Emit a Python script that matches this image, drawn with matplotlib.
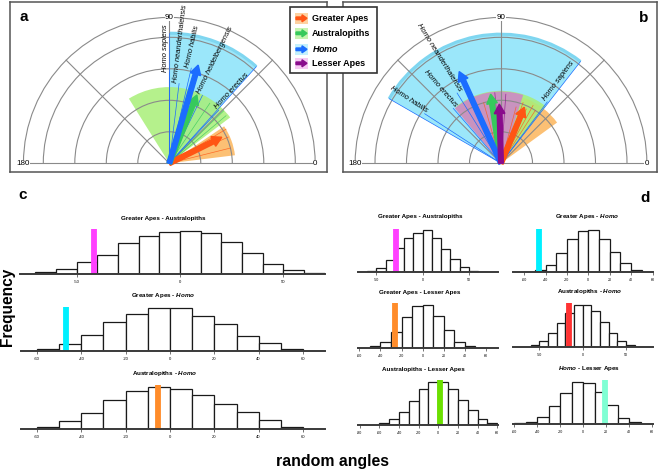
import matplotlib
matplotlib.use("Agg")
import numpy as np
import matplotlib.pyplot as plt
from matplotlib.patches import Wedge, FancyArrow, Rectangle, Arc

plt.rcParams['font.family'] = ['Liberation Sans', 'DejaVu Sans']
plt.rcParams['mathtext.fontset'] = 'custom'
plt.rcParams['mathtext.rm'] = 'Liberation Sans:bold'
plt.rcParams['mathtext.it'] = 'Liberation Sans:italic:bold'
plt.rcParams['mathtext.bf'] = 'Liberation Sans:bold'
plt.rcParams['axes.unicode_minus'] = False

# ---------------- data ----------------
groups = ["Greater Apes", "Australopiths", "Homo", "Lesser Apes"]
arrow_colors = ["#FF5514", "#36C95C", "#1B6CFF", "#890C8C"]
fan_colors = ["#FCBD6C", "#A8EF78", "#9BE7FA", "#C993BF"]
fan_alpha = [0.95, 0.85, 1.0, 1.0]
legend_bg = ["#FDD2A2", "#C6F4B0", "#C4F0FC", "#F6C8F2"]

# panel a (group order GA, Aus, Homo, LA) ; None = not shown
a_mean_angle = [26.4, 68.0, 73.6, None]
a_mean_len = [1.86, 2.34, 3.25, None]
a_fan_from = [7, 37, 48, None]
a_fan_to = [34, 122, 90, None]
a_fan_r = [2.1, 2.42, 4.13, None]

b_mean_angle = [67.4, 98.5, 114.5, 91.6]
b_mean_len = [1.93, 2.22, 3.2, 1.88]
b_fan_from = [36, 52, 52, 72]
b_fan_to = [100, 128, 150, 130]
b_fan_r = [2.2, 2.3, 4.1, 2.28]

# Homo species directions
a_species = ["Homo sapiens", "Homo neanderthalensis", "Homo habilis",
             "Homo heidelbergensis", "Homo erectus"]
a_sp_angle = [90, 83, 77, 64, 47]
a_sp_len = [2.9, 2.55, 3.1, 2.4, 2.3]
b_species = ["Homo sapiens", "Homo neanderthalensis", "Homo erectus", "Homo habilis"]
b_sp_angle = [53, 122, 131, 147]
b_sp_len = [2.44, 2.63, 2.31, 2.89]

# other individual-species directions (thin lines)
a_ga_thin_angle = [14, 24, 31]
a_ga_thin_len = [2.0, 2.05, 2.1]
a_aus_thin_angle = [40, 44, 56]
a_aus_thin_len = [2.35, 2.4, 2.3]
b_ga_thin_angle = [57, 61, 65, 70, 75, 101, 106]
b_ga_thin_len = [2.0, 2.1, 1.9, 2.05, 1.85, 2.1, 2.0]
b_la_thin_angle = [86, 95]
b_la_thin_len = [2.2, 2.25]

# randomisation histograms (bin width 10)
hist_titles = ["Greater Apes - Australopiths", r"Greater Apes - $\mathit{Homo}$",
               r"Australopiths - $\mathit{Homo}$",
               "Greater Apes - Australopiths", r"Greater Apes - $\mathit{Homo}$",
               "Greater Apes - Lesser Apes", r"Australopiths - $\mathit{Homo}$",
               "Australopiths - Lesser Apes", r"$\mathit{Homo}$ - Lesser Apes"]
c1_counts = [20, 53, 120, 193, 317, 383, 427, 437, 417, 327, 210, 103, 43, 10]
c2_counts = [14, 64, 157, 284, 364, 430, 424, 350, 264, 150, 74, 14]
c3_counts = [23, 83, 167, 293, 383, 427, 400, 340, 257, 177, 93, 27]
d1_counts = [3, 13, 47, 123, 240, 347, 397, 423, 340, 233, 130, 50, 17, 3]
d2_counts = [7, 23, 73, 190, 333, 413, 420, 330, 200, 97, 27, 7]
d3_counts = [23, 60, 167, 316, 423, 433, 326, 183, 60, 23]
d4_counts = [20, 63, 140, 246, 340, 423, 423, 363, 250, 140, 63, 23, 3]
d5_counts = [17, 57, 133, 240, 357, 433, 427, 363, 247, 147, 60, 23]
d6_counts = [10, 23, 70, 183, 317, 427, 417, 320, 193, 67, 23, 7]
hist_counts = [c1_counts, c2_counts, c3_counts, d1_counts, d2_counts,
               d3_counts, d4_counts, d5_counts, d6_counts]
hist_first_edge = [-70, -60, -60, -70, -60, -50, -60, -60, -60]
observed_angle = [-41.5, -47, -5.3, -28.4, -45.7, -26.7, -16, 2.2, 18.9]
observed_top = [453, 440, 443, 433, 433, 450, 440, 450, 443]
observed_color = ["#FF40FF", "#00F0FF", "#FF8C2A", "#FF40FF", "#00F0FF",
                  "#FF8C2A", "#FF3333", "#6BE000", "#80FFD4"]
ticks_50 = [-50, 0, 50]
ticks_20 = [-60, -40, -20, 0, 20, 40, 60]
ticks_20b = [-80, -60, -40, -20, 0, 20, 40, 60]
hist_ticks = [ticks_50, ticks_20, ticks_20, ticks_50, ticks_20, ticks_20,
              ticks_50, ticks_20b, ticks_20]

# ---------------- layout (pixels) ----------------
W, H = 660, 472
# x0, x1, baseline y, x-pixel of zero, pixels per unit, title x
hist_layout = [
    (20, 325, 274.3, 180, 2.067, 163),
    (20.7, 325, 350.7, 170, 2.217, 163),
    (20.7, 325, 429.3, 170, 2.217, 165),
    (358.3, 497.7, 272.3, 422.7, 0.924, 420),
    (513.3, 652.7, 272.3, 588.3, 1.07, 586.7),
    (358.3, 497.7, 348.3, 422.7, 1.055, 420),
    (513.3, 652.7, 347.3, 582.7, 0.867, 589.3),
    (358.3, 497.7, 425, 438.3, 0.98, 423.3),
    (513.3, 652.7, 424.3, 583.3, 1.15, 589.3),
]

fig = plt.figure(figsize=(W / 100, H / 100), dpi=100)
ov = fig.add_axes([0, 0, 1, 1], zorder=10)
ov.set_xlim(0, W)
ov.set_ylim(H, 0)
ov.axis('off')
ov.patch.set_alpha(0)

UNIT = 31.5
RMAX = 4.63


def polar_panel(box, cx, cy):
    x0, y0, x1, y1 = box
    ax = fig.add_axes([x0 / W, 1 - y1 / H, (x1 - x0) / W, (y1 - y0) / H])
    ax.set_xlim((x0 - cx) / UNIT, (x1 - cx) / UNIT)
    ax.set_ylim((cy - y1) / UNIT, (cy - y0) / UNIT)
    ax.set_xticks([])
    ax.set_yticks([])
    for s in ax.spines.values():
        s.set_color('#555555')
        s.set_linewidth(1.1)
    for r in [1, 2, 3, 4, RMAX]:
        ax.add_patch(Arc((0, 0), 2 * r, 2 * r, theta1=0, theta2=180,
                         color='#8a8a8a', lw=0.8, zorder=2))
    for ang in [45, 90, 135]:
        t = np.radians(ang)
        ax.plot([0, RMAX * np.cos(t)], [0, RMAX * np.sin(t)], color='#8a8a8a',
                lw=0.8, zorder=2)
    ax.plot([-RMAX, RMAX], [0, 0], color='#8a8a8a', lw=0.8, zorder=2)
    for lab, (px, py) in zip(["180", "90", "0"], [(-RMAX, 0), (0, RMAX), (RMAX, 0)]):
        ax.text(px, py, lab, ha='center', va='center', fontsize=5.8, zorder=6,
                bbox=dict(fc='white', ec='none', pad=0.2))
    return ax


def draw_fans(ax, order, ang_from, ang_to, rad):
    for g in order:
        if rad[g] is None:
            continue
        ax.add_patch(Wedge((0, 0), rad[g], ang_from[g], ang_to[g],
                           facecolor=fan_colors[g], alpha=fan_alpha[g],
                           edgecolor='none', zorder=1))
        if g == 2:
            ax.add_patch(Arc((0, 0), 2 * rad[g], 2 * rad[g], theta1=ang_from[g],
                             theta2=ang_to[g], color='#7FD6F0', lw=2.2, zorder=1.5))
            for a in [ang_from[g], ang_to[g]]:
                t = np.radians(a)
                ax.plot([0, rad[g] * np.cos(t)], [0, rad[g] * np.sin(t)],
                        color=arrow_colors[2], lw=0.5, zorder=3)


def thin_lines(ax, angles, lens, color):
    for a, l in zip(angles, lens):
        t = np.radians(a)
        ax.plot([0, l * np.cos(t)], [0, l * np.sin(t)], color=color, lw=0.5,
                alpha=0.8, zorder=3)


def species(ax, names, angles, lens):
    for n, a, l in zip(names, angles, lens):
        t = np.radians(a)
        x, y = l * np.cos(t), l * np.sin(t)
        ax.plot([0, x], [0, y], color=arrow_colors[2], lw=0.5, zorder=3)
        if a <= 90:
            ax.text(x, y, n, rotation=a, rotation_mode='anchor', ha='left',
                    va='bottom', fontsize=5.4, style='italic', zorder=6)
        else:
            ax.text(x, y, n, rotation=a - 180, rotation_mode='anchor', ha='right',
                    va='bottom', fontsize=5.4, style='italic', zorder=6)


def arrows(ax, angles, lens):
    for g in range(4):
        if angles[g] is None:
            continue
        t = np.radians(angles[g])
        ax.add_patch(FancyArrow(0, 0, lens[g] * np.cos(t), lens[g] * np.sin(t),
                                width=0.15, head_width=0.34, head_length=0.3,
                                length_includes_head=True, color=arrow_colors[g],
                                zorder=5))


# panel a
axa = polar_panel((10, 2, 327, 172), 169.3, 163.3)
draw_fans(axa, [2, 0, 1], a_fan_from, a_fan_to, a_fan_r)
thin_lines(axa, a_ga_thin_angle, a_ga_thin_len, arrow_colors[0])
thin_lines(axa, a_aus_thin_angle, a_aus_thin_len, arrow_colors[1])
species(axa, a_species, a_sp_angle, a_sp_len)
arrows(axa, a_mean_angle, a_mean_len)

# panel b
axb = polar_panel((343, 2, 657, 172), 501, 163.3)
draw_fans(axb, [2, 0, 1, 3], b_fan_from, b_fan_to, b_fan_r)
thin_lines(axb, b_ga_thin_angle, b_ga_thin_len, arrow_colors[0])
thin_lines(axb, b_la_thin_angle, b_la_thin_len, arrow_colors[3])
species(axb, b_species, b_sp_angle, b_sp_len)
arrows(axb, b_mean_angle, b_mean_len)

# legend
ov.add_patch(Rectangle((290, 7), 87, 66, fc='white', ec='#333333', lw=1.2))
leg_y = [18.3, 33.3, 49.3, 63.3]
for g in range(4):
    yc = leg_y[g]
    ov.add_patch(Rectangle((295, yc - 5.5), 13, 11, fc=legend_bg[g], ec='none'))
    ov.add_patch(FancyArrow(296, yc, 11, 0, width=2.6, head_width=7,
                            head_length=5, length_includes_head=True,
                            color=arrow_colors[g]))
    label = r"$\mathit{Homo}$" if groups[g] == "Homo" else groups[g]
    ov.text(311.5, yc, label, ha='left', va='center', fontsize=6.5,
            fontweight='bold')

# histograms
AXH = 50
for i in range(9):
    x0, x1, base, zero, ppu, tx = hist_layout[i]
    ax = fig.add_axes([x0 / W, 1 - base / H, (x1 - x0) / W, AXH / H])
    ax.set_xlim((x0 - zero) / ppu, (x1 - zero) / ppu)
    ax.set_ylim(0, AXH * 10)
    counts = hist_counts[i]
    edges = hist_first_edge[i] + 10 * np.arange(len(counts))
    ax.bar(edges, counts, width=10, align='edge', facecolor='white',
           edgecolor='#1a1a1a', lw=0.9, zorder=2)
    ax.vlines(observed_angle[i], 0, observed_top[i], color=observed_color[i],
              lw=4.2, zorder=3)
    ax.patch.set_alpha(0)
    for s in ['top', 'left', 'right']:
        ax.spines[s].set_visible(False)
    ax.spines['bottom'].set_linewidth(1.4)
    ax.spines['bottom'].set_color('#3a3a3a')
    ax.spines['bottom'].set_zorder(4)
    ax.set_yticks([])
    ax.set_xticks(hist_ticks[i])
    ax.set_xticklabels([str(t) for t in hist_ticks[i]])
    fs = 3.0 if i < 3 else 2.6
    ax.tick_params(axis='x', length=2.2, width=0.5, labelsize=fs, pad=2.2,
                   color='#3a3a3a')
    ov.text(tx, base - 55.5, hist_titles[i], ha='center', va='center',
            fontsize=4.5, fontweight='bold')

# panel letters and axis titles
ov.text(23.3, 16.7, "a", ha='center', va='center', fontsize=11, fontweight='bold')
ov.text(644, 18.3, "b", ha='center', va='center', fontsize=11, fontweight='bold')
ov.text(23, 195, "c", ha='center', va='center', fontsize=11, fontweight='bold')
ov.text(645, 198, "d", ha='center', va='center', fontsize=11, fontweight='bold')
ov.text(7.5, 307, "Frequency", rotation=90, ha='center', va='center',
        fontsize=11.2, fontweight='bold')
ov.text(333, 461.7, "random angles", ha='center', va='center', fontsize=11.4,
        fontweight='bold')

fig.savefig("out.png", dpi=100)
